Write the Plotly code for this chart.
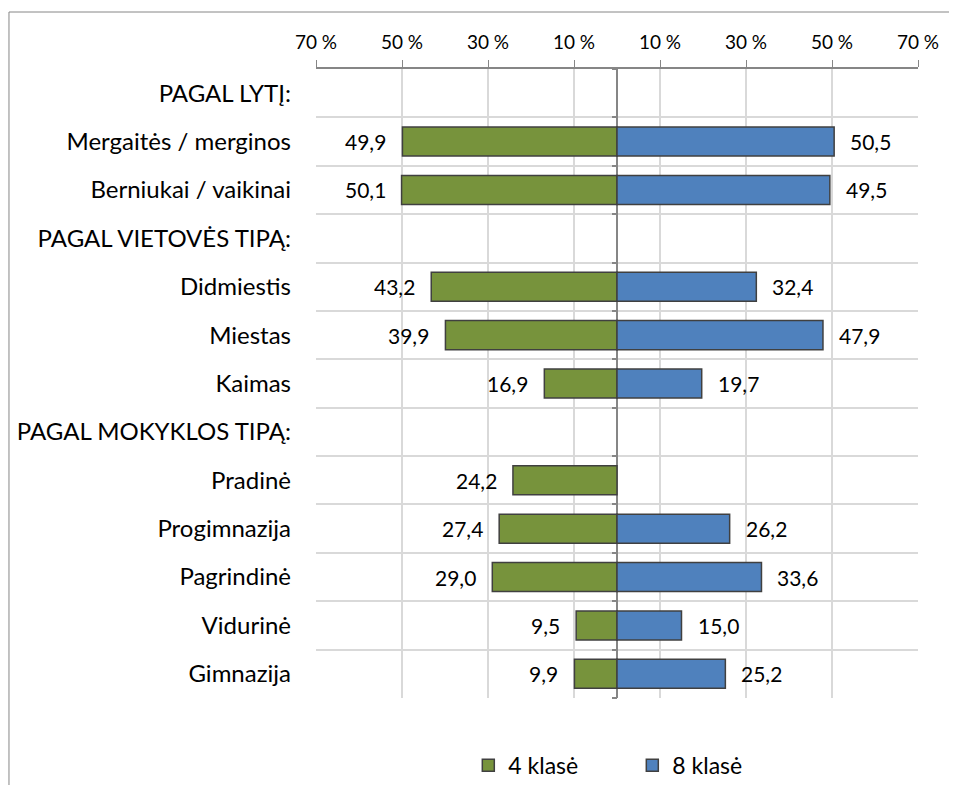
import plotly.graph_objects as go

# Kategorijos (iš viršaus į apačią)
kategorijos = ["PAGAL LYTĮ:", "Mergaitės / merginos", "Berniukai / vaikinai",
               "PAGAL VIETOVĖS TIPĄ:", "Didmiestis", "Miestas", "Kaimas",
               "PAGAL MOKYKLOS TIPĄ:", "Pradinė", "Progimnazija", "Pagrindinė",
               "Vidurinė", "Gimnazija"]
klase4 = [None, 49.9, 50.1, None, 43.2, 39.9, 16.9, None, 24.2, 27.4, 29.0, 9.5, 9.9]
klase8 = [None, 50.5, 49.5, None, 32.4, 47.9, 19.7, None, None, 26.2, 33.6, 15.0, 25.2]
tick_vals = [-70, -50, -30, -10, 10, 30, 50, 70]
tick_text = ["70 %", "50 %", "30 %", "10 %", "10 %", "30 %", "50 %", "70 %"]

FONT = "Lato"
GRID = "#D9D9D9"
AXIS = "#868686"

y = list(range(len(kategorijos)))
x4 = [-v if v is not None else None for v in klase4]

fig = go.Figure()
fig.add_trace(go.Bar(y=y, x=x4, orientation="h", name="4 klasė", width=0.6,
                     marker=dict(color="#77933C", line=dict(color="#404040", width=1.5))))
fig.add_trace(go.Bar(y=y, x=klase8, orientation="h", name="8 klasė", width=0.6,
                     marker=dict(color="#4F81BD", line=dict(color="#404040", width=1.5))))
# nematomas taškas antrai ašiai (žymės ant vidurio linijos)
fig.add_trace(go.Scatter(x=[0], y=[0], yaxis="y2", mode="markers", marker=dict(opacity=0),
                         showlegend=False, hoverinfo="skip"))

def fmt(v):
  return f"{v:.1f}".replace(".", ",")

for i, v in enumerate(klase4):
  if v is not None:
    fig.add_annotation(x=-v, y=i, text=fmt(v), showarrow=False, xanchor="right",
                       xshift=-14, font=dict(family=FONT, size=21, color="#000"))
for i, v in enumerate(klase8):
  if v is not None:
    fig.add_annotation(x=v, y=i, text=fmt(v), showarrow=False, xanchor="left",
                       xshift=14, font=dict(family=FONT, size=21, color="#000"))

ribos = [i - 0.5 for i in range(len(kategorijos) + 1)]
yrange = [len(kategorijos) - 0.5, -0.5]

# rėmelis aplink diagramą (matomas tik viršus ir kairė)
fig.add_shape(type="line", xref="paper", yref="paper", x0=-0.51, x1=1.2, y0=1.0906, y1=1.0906,
              line=dict(color=AXIS, width=1))
fig.add_shape(type="line", xref="paper", yref="paper", x0=-0.51, x1=-0.51, y0=-0.3, y1=1.0906,
              line=dict(color=AXIS, width=1))

fig.update_layout(
  width=949, height=777, barmode="overlay",
  margin=dict(l=308, r=39, t=61, b=87, autoexpand=False),
  paper_bgcolor="white", plot_bgcolor="white",
  font=dict(family=FONT, color="#000"),
  xaxis=dict(range=[-70, 70], side="top", tickvals=tick_vals, ticktext=tick_text,
             tickfont=dict(size=19), ticks="outside", ticklen=7, tickcolor=AXIS,
             showline=True, linecolor=AXIS, linewidth=1.5, mirror=False,
             showgrid=True, gridcolor=GRID, gridwidth=1.5,
             zeroline=True, zerolinecolor=AXIS, zerolinewidth=1.5,
             ticklabelstandoff=4, fixedrange=True),
  yaxis=dict(range=yrange, tickvals=y, ticktext=kategorijos, tickfont=dict(size=24),
             showgrid=False, zeroline=False, ticks="", ticklabelstandoff=24,
             minor=dict(tickvals=ribos, showgrid=True, gridcolor=GRID, gridwidth=1.5)),
  yaxis2=dict(range=yrange, overlaying="y", anchor="free", position=0.5,
              showticklabels=False, showgrid=False, zeroline=False, showline=False,
              tickvals=ribos, ticks="outside", ticklen=5, tickcolor=AXIS, tickwidth=1.5),
  legend=dict(orientation="h", x=0.253, xanchor="left", y=-0.107, yanchor="middle",
              font=dict(size=23), traceorder="normal", entrywidth=119),
  showlegend=True,
)

fig.write_html("out.html")
